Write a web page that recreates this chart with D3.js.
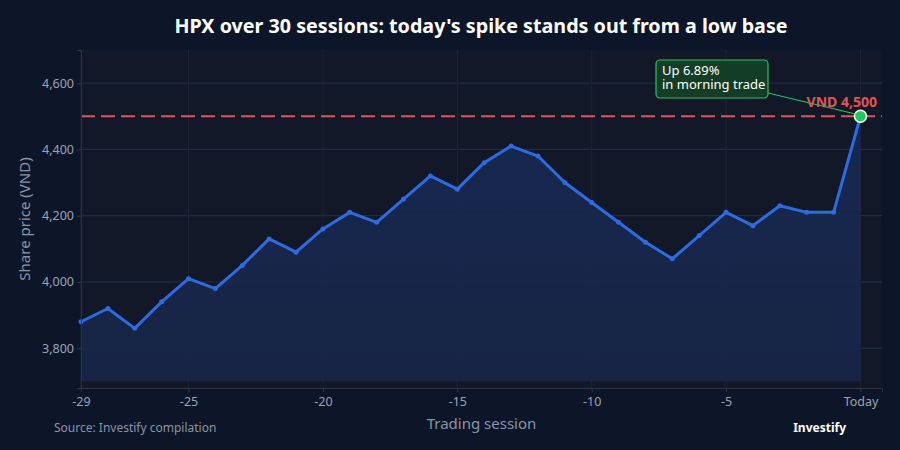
<!DOCTYPE html>
<html>
<head>
<meta charset="utf-8">
<script src="https://cdn.jsdelivr.net/npm/d3@7"></script>
<style>
  body { margin: 0; background: #0c1628; }
  svg { display: block; font-family: "Noto Sans", "Open Sans", sans-serif; }
</style>
</head>
<body>
<div id="chart"></div>
<script>
// sessions relative to today (0 = today)
const sessions = d3.range(-29, 1);
const prices = [3880, 3920, 3860, 3940, 4010, 3980, 4050, 4130, 4090, 4160,
                4210, 4180, 4250, 4320, 4280, 4360, 4410, 4380, 4300, 4240,
                4180, 4120, 4070, 4140, 4210, 4170, 4230, 4210, 4210, 4500];
const xTicks = [-29, -25, -20, -15, -10, -5, 0];
const yTicks = [3800, 4000, 4200, 4400, 4600];
const refPrice = 4500;
const noteLines = ["Up 6.89%", "in morning trade"];

const W = 900, H = 450;
const margin = { top: 50, right: 18, bottom: 62, left: 81 };
const width = W - margin.left - margin.right;
const height = H - margin.top - margin.bottom;

const svg = d3.select("#chart").append("svg")
    .attr("width", W)
    .attr("height", H);

svg.append("rect").attr("width", W).attr("height", H).attr("fill", "#0c1628");

const g = svg.append("g")
    .attr("transform", "translate(" + margin.left + "," + margin.top + ")");

const x = d3.scaleLinear().domain([-29, 0.8]).range([0, width]);
const y = d3.scaleLinear().domain([3680, 4700]).range([height, 0]);

// plot background
g.append("rect").attr("width", width).attr("height", height).attr("fill", "#121828");

// grid
g.append("g").selectAll("line").data(yTicks).join("line")
    .attr("x1", 0).attr("x2", width)
    .attr("y1", d => y(d)).attr("y2", d => y(d))
    .attr("stroke", "#243044").attr("stroke-width", 1);
g.append("g").selectAll("line").data(xTicks).join("line")
    .attr("x1", d => x(d)).attr("x2", d => x(d))
    .attr("y1", 0).attr("y2", height)
    .attr("stroke", "#1c2536").attr("stroke-width", 1);

const data = sessions.map((s, i) => ({ s: s, p: prices[i] }));

// area
const grad = svg.append("defs").append("linearGradient")
    .attr("id", "fillGrad").attr("x1", 0).attr("x2", 0).attr("y1", 0).attr("y2", 1);
grad.append("stop").attr("offset", "0%").attr("stop-color", "#172a55").attr("stop-opacity", 0.9);
grad.append("stop").attr("offset", "100%").attr("stop-color", "#182547").attr("stop-opacity", 0.9);

g.append("path")
    .datum(data)
    .attr("d", d3.area().x(d => x(d.s)).y0(y(3700)).y1(d => y(d.p)))
    .attr("fill", "url(#fillGrad)");

// reference line
g.append("line")
    .attr("x1", 0).attr("x2", width)
    .attr("y1", y(refPrice)).attr("y2", y(refPrice))
    .attr("stroke", "#e05555").attr("stroke-width", 2)
    .attr("stroke-dasharray", "14,6");

// price line
g.append("path")
    .datum(data)
    .attr("d", d3.line().x(d => x(d.s)).y(d => y(d.p)))
    .attr("fill", "none")
    .attr("stroke", "#2e6be0")
    .attr("stroke-width", 3)
    .attr("stroke-linejoin", "round");

g.append("g").selectAll("circle").data(data.slice(0, -1)).join("circle")
    .attr("cx", d => x(d.s)).attr("cy", d => y(d.p)).attr("r", 2.5)
    .attr("fill", "#2e6be0");

// axes
const xAxis = g.append("g")
    .attr("transform", "translate(0," + height + ")")
    .call(d3.axisBottom(x).tickValues(xTicks).tickSize(4)
        .tickFormat(d => d === 0 ? "Today" : d));
const yAxis = g.append("g")
    .call(d3.axisLeft(y).tickValues(yTicks).tickSize(4).tickFormat(d3.format(",")));
[xAxis, yAxis].forEach(a => {
    a.select(".domain").attr("stroke", "#2a3548");
    a.selectAll(".tick line").attr("stroke", "#2a3548");
    a.selectAll(".tick text").attr("fill", "#9aa4b5").attr("font-size", 12.5)
        .attr("font-family", "'Noto Sans', sans-serif");
});
xAxis.selectAll(".tick text").attr("dy", "0.9em");

// today marker
const last = data[data.length - 1];
g.append("circle")
    .attr("cx", x(last.s)).attr("cy", y(last.p)).attr("r", 6)
    .attr("fill", "#22c55e").attr("stroke", "#ffffff").attr("stroke-width", 1.5);

g.append("text")
    .attr("x", width - 5).attr("y", y(refPrice) - 9)
    .attr("text-anchor", "end")
    .attr("fill", "#e05555").attr("font-size", 14).attr("font-weight", "bold")
    .text("VND 4,500");

// annotation
const bx = 656 - margin.left, by = 60 - margin.top;
g.append("line")
    .attr("x1", bx + 112).attr("y1", by + 33)
    .attr("x2", x(last.s) - 4).attr("y2", y(last.p) - 2)
    .attr("stroke", "#22c55e").attr("stroke-width", 1.2);
g.append("rect")
    .attr("x", bx).attr("y", by).attr("width", 112).attr("height", 38).attr("rx", 4)
    .attr("fill", "#133d26").attr("stroke", "#2fbf5f").attr("stroke-width", 1.2);
g.append("g").selectAll("text").data(noteLines).join("text")
    .attr("x", bx + 6).attr("y", (d, i) => by + 15 + i * 14)
    .attr("fill", "#ffffff").attr("font-size", 13)
    .text(d => d);

// titles
svg.append("text")
    .attr("x", 481).attr("y", 33).attr("text-anchor", "middle")
    .attr("fill", "#ffffff").attr("font-size", 19.7).attr("font-weight", "bold")
    .text("HPX over 30 sessions: today's spike stands out from a low base");

svg.append("text")
    .attr("transform", "translate(30," + (margin.top + height / 2) + ") rotate(-90)")
    .attr("text-anchor", "middle")
    .attr("fill", "#8a94a6").attr("font-size", 15)
    .text("Share price (VND)");

svg.append("text")
    .attr("x", margin.left + width / 2).attr("y", 429).attr("text-anchor", "middle")
    .attr("fill", "#8a94a6").attr("font-size", 15)
    .text("Trading session");

svg.append("text")
    .attr("x", 54).attr("y", 432)
    .attr("fill", "#8a94a6").attr("font-size", 12)
    .text("Source: Investify compilation");

svg.append("text")
    .attr("x", 846).attr("y", 432).attr("text-anchor", "end")
    .attr("fill", "#ffffff").attr("font-size", 12).attr("font-weight", "bold")
    .text("Investify");
</script>
</body>
</html>
